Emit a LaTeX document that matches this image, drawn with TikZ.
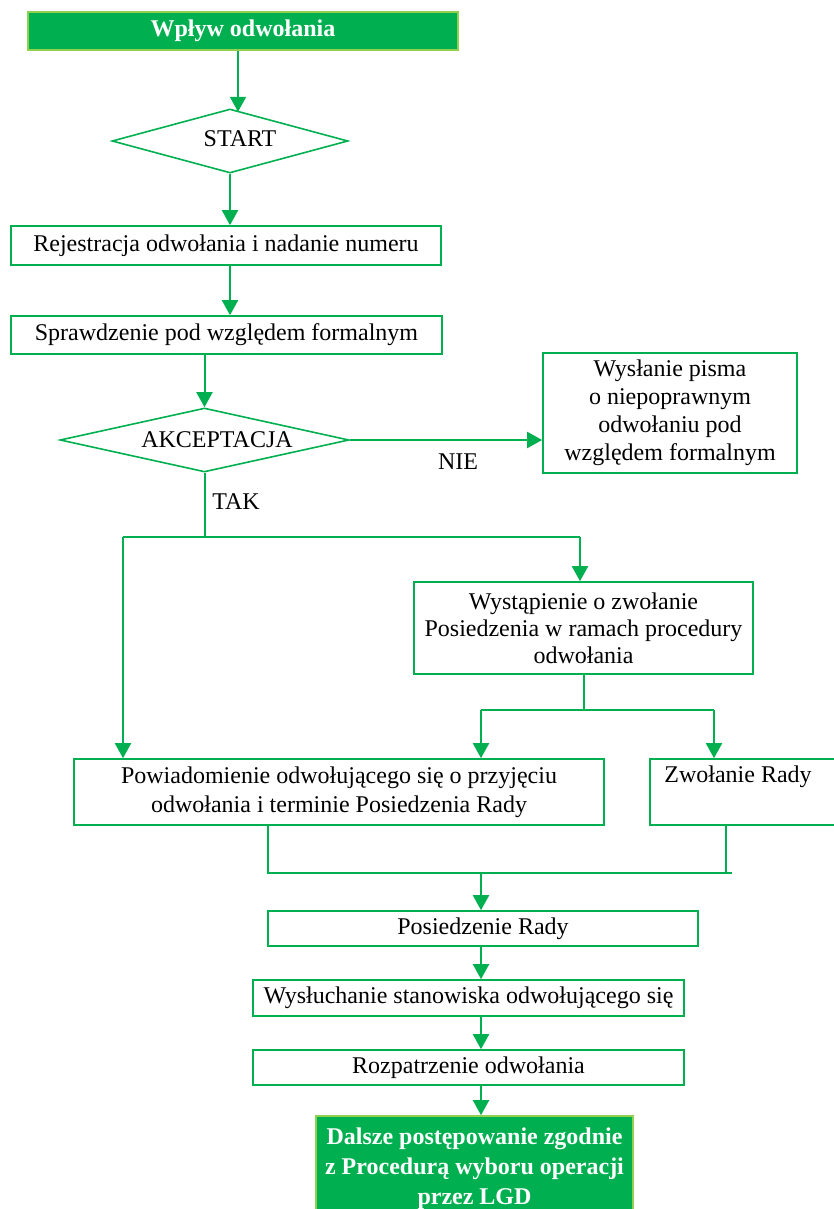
\documentclass[tikz,border=0pt]{standalone}
\usepackage{fontspec}
\setmainfont{Liberation Serif}
\usetikzlibrary{shapes.geometric,arrows.meta}
\definecolor{gc}{RGB}{0,176,80}
\definecolor{lgc}{RGB}{146,208,80}
\tikzset{
  box/.style={draw=gc, line width=0.8pt, rectangle, inner sep=0pt, align=center, font=\fontsize{12}{14.5}\selectfont},
  gbox/.style={box, fill=gc, draw=lgc, text=white, font=\fontsize{12}{15}\selectfont\bfseries},
  dia/.style={draw=gc, line width=0.8pt, diamond, inner sep=0pt},
  lbl/.style={inner sep=0pt, font=\fontsize{12}{14.5}\selectfont},
  arr/.style={draw=gc, line width=1pt, -{Triangle[width=8pt,length=7.5pt]}},
  ln/.style={draw=gc, line width=1pt},
}
\begin{document}
\begin{tikzpicture}[x=0.5pt,y=-0.5pt]
\useasboundingbox (0,0) rectangle (834,1209);
% nodes
\node[gbox, minimum width=215pt, minimum height=19pt] (top) at (243,31) {Wpływ odwołania};
\node[dia, minimum width=118pt, minimum height=32pt] (start) at (230,141) {};
\node[lbl] (starttxt) at (240,139) {START};
\node[box, minimum width=215pt, minimum height=19.5pt] (rej) at (226,245.5) {Rejestracja odwołania i nadanie numeru};
\node[box, minimum width=215.5pt, minimum height=19pt] (spr) at (226.5,335) {Sprawdzenie pod względem formalnym};
\node[dia, minimum width=144.5pt, minimum height=32pt] (akc) at (204.5,440) {};
\node[lbl] (akctxt) at (217,440) {AKCEPTACJA};
\node[box, minimum width=127pt, minimum height=60pt, font=\fontsize{12}{14}\selectfont] (wys) at (670,413) {Wysłanie pisma\\o niepoprawnym\\odwołaniu pod\\względem formalnym};
\node[lbl] (nie) at (458,462) {NIE};
\node[lbl] (tak) at (236,502) {TAK};
\node[box, minimum width=169.5pt, minimum height=46pt, font=\fontsize{12}{13.5}\selectfont] (wyst) at (583.5,628) {Wystąpienie o zwołanie\\Posiedzenia w ramach procedury\\odwołania};
\node[box, minimum width=265pt, minimum height=33pt] (pow) at (339,792) {Powiadomienie odwołującego się o przyjęciu\\odwołania i terminie Posiedzenia Rady};
\node[box, minimum width=95pt, minimum height=33pt] (zwo) at (745,792) {};
\node[lbl] (zwotxt) at (738,777) {Zwołanie Rady};
\node[box, minimum width=215pt, minimum height=17.5pt] (pos) at (483,928.5) {Posiedzenie Rady};
\node[box, minimum width=215.5pt, minimum height=18pt] (wysl) at (468.5,998) {Wysłuchanie stanowiska odwołującego się};
\node[box, minimum width=215.5pt, minimum height=17.5pt] (roz) at (468.5,1067.5) {Rozpatrzenie odwołania};
\node[gbox, minimum width=158.5pt, minimum height=53pt] (fin) at (474.5,1169) {Dalsze postępowanie zgodnie\\z Procedurą wyboru operacji\\przez LGD};
% junction coordinates
\coordinate (jl) at (123,537);
\coordinate (jr) at (580,537);
\coordinate (kl) at (481,710);
\coordinate (kr) at (714,710);
\coordinate (ml) at (268,873);
\coordinate (mr) at (726,873);
\coordinate (me) at (732,873);
\coordinate (mm) at (481,873);
% connectors
\draw[arr] ([xshift=-2.5pt]top.south) -- ++(0,61);
\draw[arr] (start.south) -- (start.south |- rej.north);
\draw[arr] (rej.south -| start.south) -- (spr.north -| start.south);
\draw[arr] (spr.south -| akc.north) -- (akc.north);
\draw[arr] (akc.east) -- (wys.west |- akc.east);
\draw[ln] (akc.south) -- (akc.south |- jl);
\draw[ln] (jl) -- (jr);
\draw[arr] (jl) -- (jl |- pow.north);
\draw[arr] (jr) -- (jr |- wyst.north);
\draw[ln] (wyst.south) -- (wyst.south |- kl);
\draw[ln] (kl) -- (kr);
\draw[arr] (kl) -- (kl |- pow.north);
\draw[arr] (kr) -- (kr |- zwo.north);
\draw[ln] (ml |- pow.south) -- (ml) -- (me);
\draw[ln] (mr |- zwo.south) -- (mr);
\draw[arr] (mm) -- (mm |- pos.north);
\draw[arr] (pos.south -| mm) -- (wysl.north -| mm);
\draw[arr] (wysl.south -| mm) -- (roz.north -| mm);
\draw[arr] (roz.south -| mm) -- (fin.north -| mm);
\end{tikzpicture}
\end{document}
